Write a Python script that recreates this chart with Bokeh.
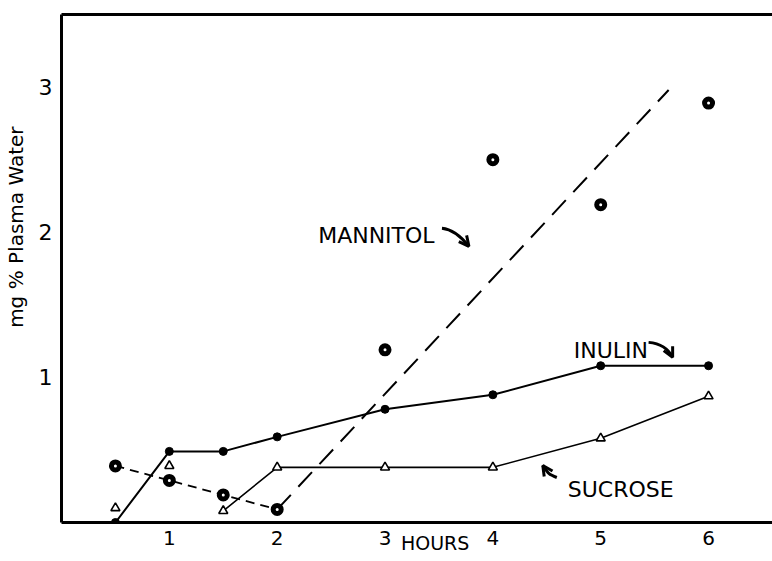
from bokeh.plotting import figure
from bokeh.models import (Label, LinearAxis, FixedTicker, Arrow, OpenHead,
                          ColumnDataSource)
from bokeh.embed import file_html
from bokeh.resources import INLINE

# ---- data ----
hours = [0.5, 1, 1.5, 2, 3, 4, 5, 6]
inulin = [0.0, 0.49, 0.49, 0.59, 0.78, 0.88, 1.08, 1.08]
sucrose = [0.10, 0.39, 0.08, 0.38, 0.38, 0.38, 0.58, 0.87]
mannitol = [0.39, 0.29, 0.19, 0.09, 1.19, 2.50, 2.19, 2.89]

# connected parts
sucrose_line_hours = hours[2:]
sucrose_line_vals = sucrose[2:]
mannitol_early_hours = hours[:4]
mannitol_early_vals = mannitol[:4]
# fitted dashed line for mannitol
mannitol_fit_x = [2.0, 5.63]
mannitol_fit_y = [0.09, 2.98]

x_ticks = [1, 2, 3, 4, 5, 6]
y_ticks = [1, 2, 3]

FONT = "DejaVu Sans"
NB = "\u00a0"

p = figure(width=772, height=561, x_range=(0, 6.593), y_range=(0, 3.5),
           output_backend="svg", toolbar_location=None,
           min_border_left=60, min_border_right=0, min_border_top=14,
           min_border_bottom=39)
p.outline_line_color = None
p.grid.visible = False
p.background_fill_color = "white"
p.border_fill_color = "white"

for ax in (p.xaxis[0], p.yaxis[0]):
    ax.axis_line_width = 3
    ax.axis_line_color = "black"
    ax.major_tick_line_color = None
    ax.minor_tick_line_color = None
    ax.major_tick_out = 0
    ax.major_tick_in = 0
    ax.minor_tick_out = 0
    ax.minor_tick_in = 0
    ax.major_label_text_font = FONT
    ax.major_label_text_color = "black"
    ax.axis_label_text_font = FONT
    ax.axis_label_text_font_style = "normal"
    ax.axis_label_text_color = "black"

xa = p.xaxis[0]
xa.ticker = FixedTicker(ticks=x_ticks)
xa.major_label_text_font_size = "20px"
xa.major_label_standoff = 8
xa.axis_label = NB * 6 + "HOURS"
xa.axis_label_text_font_size = "19px"
xa.axis_label_standoff = -16

ya = p.yaxis[0]
ya.ticker = FixedTicker(ticks=y_ticks)
ya.major_label_text_font_size = "22px"
ya.major_label_standoff = 9
ya.axis_label = NB * 13 + "mg % Plasma Water"
ya.axis_label_text_font_size = "20px"
ya.axis_label_standoff = 8

top = LinearAxis(ticker=FixedTicker(ticks=[]), axis_line_width=3,
                 axis_line_color="black", major_tick_out=0, major_tick_in=0,
                 minor_tick_out=0, minor_tick_in=0, major_label_standoff=0,
                 major_label_text_font_size="0px")
p.add_layout(top, "above")

# ---- series ----
# Mannitol
p.line(mannitol_fit_x, mannitol_fit_y, line_color="black", line_width=2,
       line_dash="20 11")
p.line(mannitol_early_hours, mannitol_early_vals, line_color="black",
       line_width=1.8, line_dash="9 6")
# Inulin
p.line(hours, inulin, line_color="black", line_width=2)
# Sucrose
p.line(sucrose_line_hours, sucrose_line_vals, line_color="black", line_width=1.6)

p.scatter(hours, inulin, marker="circle", size=8, fill_color="black",
          line_color="black")
p.scatter(hours, sucrose, marker="triangle", size=9, fill_color="white",
          line_color="black", line_width=1.6)
p.scatter(hours, mannitol, marker="circle", size=8, fill_color="white",
          line_color="black", line_width=5)

# ---- curved label arrows ----
arr = dict(
    x0=[3.528, 5.444, 4.593], y0=[2.028, 1.241, 0.310],
    cx0=[3.630, 5.556, 4.519], cy0=[2.021, 1.234, 0.331],
    cx1=[3.704, 5.630, 4.519], cy1=[1.972, 1.193, 0.331],
    x1=[3.778, 5.667, 4.463], y1=[1.903, 1.138, 0.393],
)
p.bezier(x0="x0", y0="y0", cx0="cx0", cy0="cy0", cx1="cx1", cy1="cy1",
         x1="x1", y1="y1", source=ColumnDataSource(arr), line_color="black",
         line_width=3)
for i in range(3):
    p.add_layout(Arrow(end=OpenHead(size=10, line_width=3, line_color="black"),
                       x_start=arr["cx1"][i], y_start=arr["cy1"][i],
                       x_end=arr["x1"][i], y_end=arr["y1"][i], line_alpha=0))

# ---- labels ----
def lab(txt, x, y, size):
    p.add_layout(Label(x=x, y=y, text=txt, text_font=FONT,
                       text_font_size=size, text_align="left",
                       text_baseline="alphabetic", text_color="black"))

lab("MANNITOL", 2.38, 1.979, "22px")
lab("INULIN", 4.75, 1.186, "22px")
lab("SUCROSE", 4.694, 0.228, "22px")

open("out.html", "w").write(file_html(p, INLINE))
